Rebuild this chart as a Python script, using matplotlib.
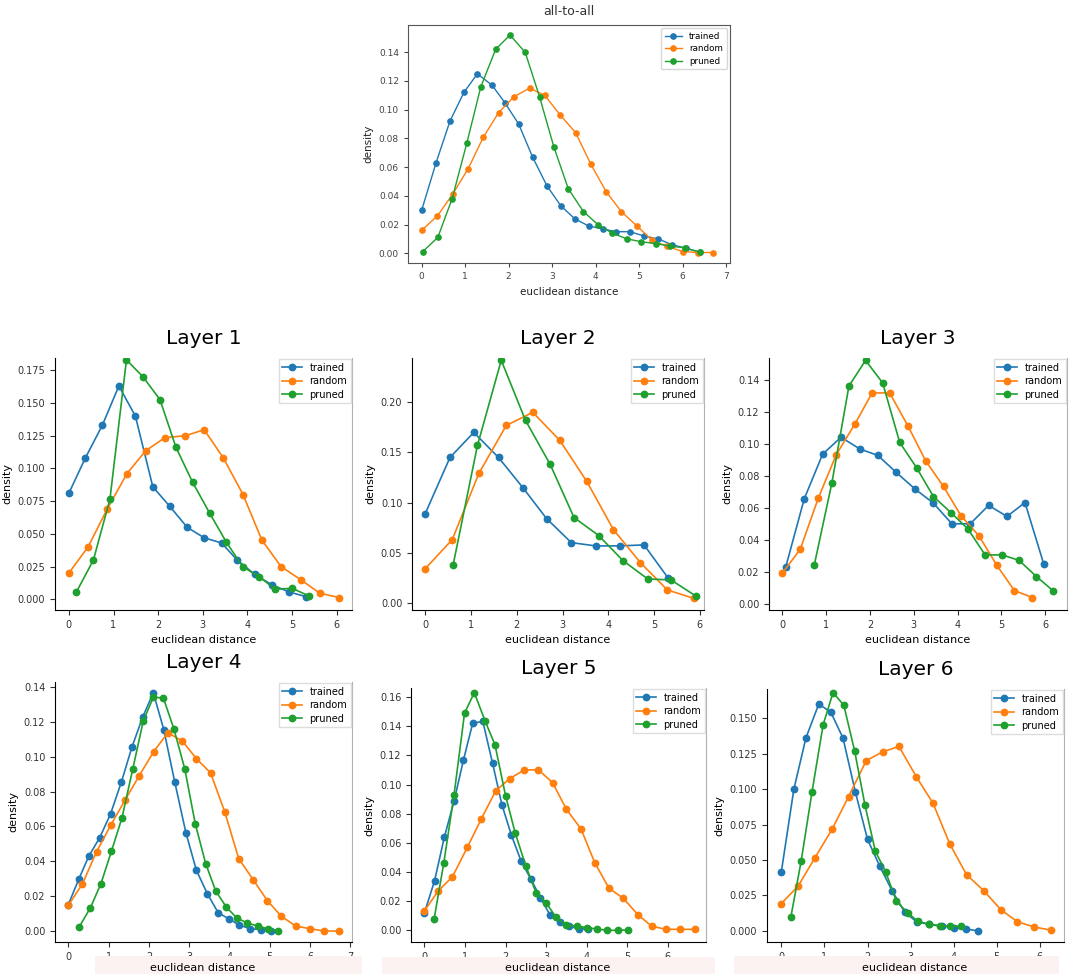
import matplotlib
matplotlib.use("Agg")
import matplotlib.pyplot as plt
from matplotlib.patches import Rectangle
from matplotlib.ticker import MultipleLocator

W, H = 1072, 974

BLUE = "#1f78b4"
ORANGE = "#ff7f0e"
GREEN = "#1ea02e"
LABELS = ["trained", "random", "pruned"]

# ---- all-to-all ----
all_trained_x = [0.00, 0.33, 0.65, 0.97, 1.28, 1.62, 1.91, 2.23, 2.55, 2.88, 3.20, 3.52, 3.84, 4.16, 4.47, 4.79, 5.11, 5.44, 5.75, 6.07, 6.39]
all_trained_y = [0.030, 0.063, 0.092, 0.112, 0.125, 0.117, 0.105, 0.090, 0.067, 0.047, 0.033, 0.024, 0.019, 0.017, 0.015, 0.015, 0.012, 0.010, 0.006, 0.0035, 0.0007]
all_random_x = [0.00, 0.36, 0.71, 1.07, 1.42, 1.77, 2.12, 2.48, 2.83, 3.18, 3.54, 3.89, 4.24, 4.59, 4.95, 5.30, 5.65, 6.00, 6.36, 6.71]
all_random_y = [0.016, 0.026, 0.041, 0.059, 0.081, 0.098, 0.109, 0.115, 0.110, 0.0965, 0.084, 0.062, 0.043, 0.029, 0.019, 0.009, 0.0047, 0.0012, 0.0005, 0.0005]
all_pruned_x = [0.02, 0.37, 0.70, 1.04, 1.36, 1.70, 2.03, 2.38, 2.71, 3.04, 3.37, 3.72, 4.05, 4.38, 4.72, 5.05, 5.39, 5.71, 6.06, 6.39]
all_pruned_y = [0.001, 0.011, 0.038, 0.077, 0.116, 0.142, 0.152, 0.140, 0.109, 0.074, 0.045, 0.029, 0.020, 0.014, 0.010, 0.008, 0.0067, 0.005, 0.0037, 0.0009]

# ---- Layer 1 ----
l1_trained_x = [0.00, 0.37, 0.75, 1.12, 1.49, 1.88, 2.26, 2.65, 3.03, 3.42, 3.77, 4.16, 4.55, 4.93, 5.31]
l1_trained_y = [0.081, 0.108, 0.133, 0.163, 0.140, 0.086, 0.071, 0.055, 0.047, 0.043, 0.030, 0.019, 0.011, 0.0056, 0.002]
l1_random_x = [0.00, 0.43, 0.86, 1.30, 1.72, 2.15, 2.61, 3.03, 3.46, 3.90, 4.32, 4.75, 5.19, 5.62, 6.06]
l1_random_y = [0.020, 0.040, 0.069, 0.096, 0.1135, 0.1235, 0.125, 0.1296, 0.108, 0.080, 0.0454, 0.025, 0.015, 0.0046, 0.0013]
l1_pruned_x = [0.17, 0.55, 0.92, 1.29, 1.66, 2.04, 2.40, 2.77, 3.15, 3.52, 3.89, 4.26, 4.62, 5.00, 5.37]
l1_pruned_y = [0.0056, 0.030, 0.0765, 0.183, 0.170, 0.1526, 0.116, 0.0895, 0.066, 0.044, 0.025, 0.0173, 0.0077, 0.0084, 0.0026]

# ---- Layer 2 ----
l2_trained_x = [0.00, 0.54, 1.06, 1.60, 2.13, 2.65, 3.19, 3.72, 4.25, 4.78, 5.30]
l2_trained_y = [0.089, 0.145, 0.170, 0.145, 0.115, 0.084, 0.060, 0.0567, 0.0567, 0.0577, 0.025]
l2_random_x = [0.00, 0.59, 1.17, 1.77, 2.35, 2.94, 3.53, 4.11, 4.70, 5.29, 5.87]
l2_random_y = [0.034, 0.063, 0.129, 0.177, 0.190, 0.162, 0.121, 0.073, 0.040, 0.0127, 0.0043]
l2_pruned_x = [0.61, 1.14, 1.66, 2.19, 2.73, 3.25, 3.79, 4.32, 4.86, 5.37, 5.91]
l2_pruned_y = [0.038, 0.157, 0.242, 0.182, 0.138, 0.085, 0.067, 0.042, 0.0237, 0.0227, 0.0067]

# ---- Layer 3 ----
l3_trained_x = [0.08, 0.50, 0.92, 1.34, 1.77, 2.18, 2.60, 3.03, 3.45, 3.87, 4.29, 4.71, 5.13, 5.54, 5.97]
l3_trained_y = [0.0233, 0.0656, 0.0935, 0.104, 0.0967, 0.0927, 0.0821, 0.0717, 0.0629, 0.050, 0.050, 0.0615, 0.0546, 0.0633, 0.0248]
l3_random_x = [0.00, 0.41, 0.82, 1.23, 1.65, 2.05, 2.45, 2.87, 3.27, 3.68, 4.08, 4.49, 4.90, 5.30, 5.71]
l3_random_y = [0.0192, 0.0342, 0.066, 0.0931, 0.112, 0.1317, 0.1317, 0.111, 0.0894, 0.0733, 0.055, 0.0425, 0.024, 0.0083, 0.004]
l3_pruned_x = [0.73, 1.13, 1.52, 1.90, 2.29, 2.68, 3.07, 3.45, 3.85, 4.24, 4.63, 5.02, 5.41, 5.80, 6.18]
l3_pruned_y = [0.0244, 0.0754, 0.136, 0.152, 0.138, 0.1008, 0.0848, 0.067, 0.057, 0.0467, 0.0306, 0.0306, 0.0271, 0.0171, 0.0083]

# ---- Layer 4 ----
l4_trained_x = [0.00, 0.265, 0.51, 0.78, 1.05, 1.32, 1.58, 1.85, 2.11, 2.37, 2.64, 2.92, 3.18, 3.45, 3.72, 3.99, 4.23, 4.51, 4.77, 5.03]
l4_trained_y = [0.0151, 0.030, 0.043, 0.0536, 0.0673, 0.0857, 0.1056, 0.123, 0.1367, 0.1155, 0.0857, 0.0562, 0.0348, 0.0214, 0.0105, 0.0069, 0.0036, 0.0013, 0.0008, 0.0]
l4_random_x = [0.00, 0.35, 0.70, 1.06, 1.41, 1.76, 2.12, 2.47, 2.83, 3.18, 3.53, 3.88, 4.23, 4.59, 4.94, 5.29, 5.64, 6.00, 6.35, 6.71]
l4_random_y = [0.0147, 0.027, 0.0455, 0.061, 0.0752, 0.0891, 0.103, 0.1138, 0.109, 0.0989, 0.0908, 0.0685, 0.0415, 0.0294, 0.0174, 0.0084, 0.0029, 0.0013, 0.0, 0.0]
l4_pruned_x = [0.27, 0.55, 0.81, 1.07, 1.33, 1.60, 1.86, 2.11, 2.36, 2.62, 2.89, 3.15, 3.41, 3.66, 3.92, 4.18, 4.44, 4.70, 4.95, 5.21]
l4_pruned_y = [0.0023, 0.0134, 0.0272, 0.0457, 0.0648, 0.093, 0.1205, 0.1342, 0.1337, 0.116, 0.0931, 0.0616, 0.0386, 0.0229, 0.0138, 0.0075, 0.0046, 0.0029, 0.0013, 0.0]

# ---- Layer 5 ----
l5_trained_x = [0.00, 0.25, 0.49, 0.73, 0.96, 1.19, 1.44, 1.68, 1.91, 2.14, 2.38, 2.62, 2.86, 3.10, 3.34, 3.57, 3.81, 4.04]
l5_trained_y = [0.0119, 0.0339, 0.0637, 0.0885, 0.1165, 0.142, 0.1433, 0.1146, 0.0862, 0.0656, 0.0477, 0.0353, 0.0225, 0.0103, 0.0055, 0.0028, 0.0011, 0.001]
l5_random_x = [0.00, 0.34, 0.69, 1.06, 1.40, 1.76, 2.10, 2.46, 2.81, 3.16, 3.50, 3.86, 4.20, 4.55, 4.90, 5.26, 5.60, 5.96, 6.30, 6.66]
l5_random_y = [0.0133, 0.027, 0.0367, 0.057, 0.0763, 0.0958, 0.104, 0.110, 0.110, 0.1013, 0.083, 0.0695, 0.0463, 0.0289, 0.022, 0.0108, 0.0028, 0.0007, 0.0007, 0.0007]
l5_pruned_x = [0.24, 0.48, 0.73, 0.99, 1.23, 1.50, 1.74, 2.00, 2.24, 2.50, 2.75, 3.00, 3.24, 3.50, 3.75, 4.01, 4.26, 4.51, 4.77, 5.03]
l5_pruned_y = [0.0078, 0.0465, 0.0928, 0.149, 0.163, 0.1433, 0.1272, 0.0924, 0.0665, 0.0442, 0.0259, 0.0188, 0.0092, 0.0034, 0.003, 0.0018, 0.0009, 0.0, 0.0, 0.0003]

# ---- Layer 6 ----
l6_trained_x = [0.00, 0.29, 0.57, 0.87, 1.15, 1.43, 1.72, 2.00, 2.28, 2.57, 2.86, 3.14, 3.43, 3.72, 4.00, 4.29, 4.57]
l6_trained_y = [0.0417, 0.0998, 0.136, 0.160, 0.154, 0.136, 0.0977, 0.0645, 0.0459, 0.0283, 0.0134, 0.0064, 0.0047, 0.0035, 0.0024, 0.0014, 0.0]
l6_random_x = [0.00, 0.39, 0.77, 1.18, 1.56, 1.97, 2.35, 2.73, 3.13, 3.52, 3.91, 4.30, 4.70, 5.09, 5.48, 5.87, 6.26]
l6_random_y = [0.0193, 0.0316, 0.0511, 0.0718, 0.0947, 0.120, 0.1262, 0.130, 0.1088, 0.090, 0.0612, 0.0396, 0.0283, 0.0151, 0.0064, 0.0028, 0.0005]
l6_pruned_x = [0.22, 0.46, 0.71, 0.97, 1.20, 1.45, 1.70, 1.94, 2.18, 2.42, 2.67, 2.93, 3.17, 3.42, 3.68, 3.92, 4.16]
l6_pruned_y = [0.0097, 0.0492, 0.0977, 0.1453, 0.168, 0.159, 0.127, 0.0888, 0.0563, 0.0417, 0.021, 0.0127, 0.0068, 0.0047, 0.0035, 0.0033, 0.0033]


def px_rect(left, top, right, bottom):
    # pixel box -> figure fraction [l, b, w, h]
    return [left / W, 1 - bottom / H, (right - left) / W, (bottom - top) / H]


def draw_series(ax, series, ms, lw):
    for (x, y), color, label in zip(series, [BLUE, ORANGE, GREEN], LABELS):
        ax.plot(x, y, "-o", color=color, label=label, markersize=ms, linewidth=lw)


def layer_panel(fig, title, rect, series, xlim, ylim, ystep=None, xlabel_on_axes=True):
    ax = fig.add_axes(px_rect(*rect))
    draw_series(ax, series, ms=4.6, lw=1.2)
    ax.set_xlim(*xlim)
    ax.set_ylim(*ylim)
    if ystep:
        ax.yaxis.set_major_locator(MultipleLocator(ystep))
    ax.set_title(title, fontsize=14.5, pad=10)
    ax.set_ylabel("density", fontsize=8)
    if xlabel_on_axes:
        ax.set_xlabel("euclidean distance", fontsize=8, labelpad=4)
    ax.tick_params(labelsize=7, colors="#333333", length=3.5)
    ax.spines["top"].set_visible(False)
    ax.spines["right"].set_color("#b0b0b0")
    ax.legend(loc="upper right", fontsize=7, borderaxespad=0.15,
              handlelength=2.0, labelspacing=0.35, borderpad=0.35,
              framealpha=1.0, edgecolor="#dddddd", fancybox=False)
    return ax


def main():
    fig = plt.figure(figsize=(W / 100, H / 100), dpi=100)

    # top all-to-all panel
    ax = fig.add_axes(px_rect(408, 25, 730, 263))
    draw_series(ax, [(all_trained_x, all_trained_y), (all_random_x, all_random_y),
                     (all_pruned_x, all_pruned_y)], ms=3.8, lw=1.0)
    ax.set_xlim(-0.315, 7.09)
    ax.set_ylim(-0.0068, 0.159)
    ax.set_title("all-to-all", fontsize=9, color="#333333", pad=7)
    ax.set_ylabel("density", fontsize=7.5, color="#222222")
    ax.set_xlabel("euclidean distance", fontsize=7.5, color="#222222")
    ax.tick_params(labelsize=6.5, colors="#444444", length=3)
    for sp in ax.spines.values():
        sp.set_color("#555555")
    ax.legend(loc="upper right", fontsize=6.3, borderaxespad=0.4,
              handlelength=2.0, labelspacing=0.4, edgecolor="#cccccc")

    panels = [
        ("Layer 1", (55, 358, 352, 610),
         [(l1_trained_x, l1_trained_y), (l1_random_x, l1_random_y), (l1_pruned_x, l1_pruned_y)],
         (-0.31, 6.34), (-0.0082, 0.1844), 0.025),
        ("Layer 2", (412, 358, 704, 610),
         [(l2_trained_x, l2_trained_y), (l2_random_x, l2_random_y), (l2_pruned_x, l2_pruned_y)],
         (-0.29, 6.09), (-0.0073, 0.2443), 0.05),
        ("Layer 3", (769, 358, 1067, 610),
         [(l3_trained_x, l3_trained_y), (l3_random_x, l3_random_y), (l3_pruned_x, l3_pruned_y)],
         (-0.305, 6.50), (-0.0038, 0.1535), 0.02),
        ("Layer 4", (55, 682, 352, 942),
         [(l4_trained_x, l4_trained_y), (l4_random_x, l4_random_y), (l4_pruned_x, l4_pruned_y)],
         (-0.33, 7.04), (-0.0063, 0.1429), 0.02),
        ("Layer 5", (411, 688, 706, 942),
         [(l5_trained_x, l5_trained_y), (l5_random_x, l5_random_y), (l5_pruned_x, l5_pruned_y)],
         (-0.33, 6.94), (-0.008, 0.1662), 0.02),
        ("Layer 6", (767, 689, 1064, 942),
         [(l6_trained_x, l6_trained_y), (l6_random_x, l6_random_y), (l6_pruned_x, l6_pruned_y)],
         (-0.333, 6.56), (-0.0078, 0.1705), 0.025),
    ]
    for i, (title, rect, series, xlim, ylim, ystep) in enumerate(panels):
        layer_panel(fig, title, rect, series, xlim, ylim, ystep, xlabel_on_axes=(i < 3))

    # faint pink strips at the bottom (they cover part of the tick labels)
    for left, top, right in [(95, 956, 362), (382, 957, 715), (734, 955.5, 1059)]:
        fig.patches.append(Rectangle((left / W, 0), (right - left) / W, 1 - top / H,
                                     transform=fig.transFigure, facecolor="#fdf2f2",
                                     edgecolor="none", zorder=1))
    for cx in [203, 558, 915]:
        fig.text(cx / W, 1 - 968 / H, "euclidean distance", fontsize=8,
                 ha="center", va="center", zorder=3)

    fig.savefig("out.png", dpi=100, facecolor="white")
    plt.close(fig)


if __name__ == "__main__":
    main()
